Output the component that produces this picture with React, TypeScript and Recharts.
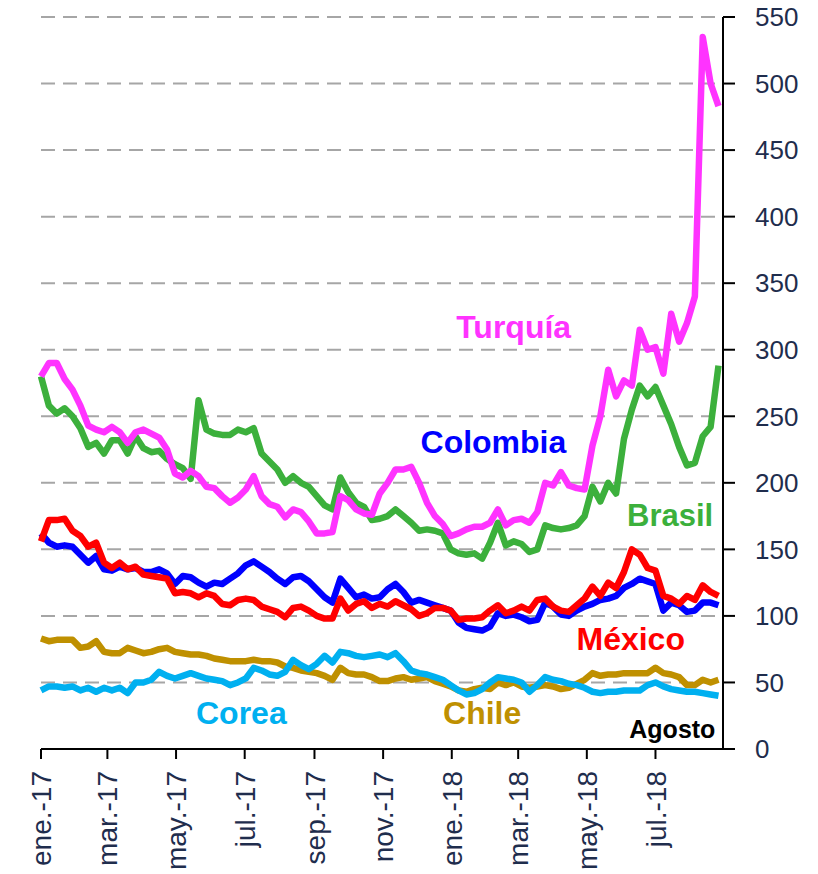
import { CartesianGrid, Line, LineChart, ReferenceDot, XAxis, YAxis } from 'recharts'

// puntos semanales desde el 1 de enero de 2017 (día 0, 7, 14, ...)
const turquia = [
  280, 290, 290, 278, 270, 258, 243, 240, 238, 242, 238, 230, 238, 240, 237, 234, 225, 207, 204, 209,
  205, 197, 196, 190, 185, 189, 195, 205, 190, 184, 182, 174, 180, 178, 171, 162, 162, 163, 190, 187,
  180, 177, 176, 192, 200, 210, 210, 212, 200, 185, 175, 169, 160, 162, 165, 167, 167, 170, 180, 168,
  172, 173, 170, 178, 200, 198, 208, 198, 196, 195, 228, 250, 285, 265, 277, 273, 315, 300, 302, 282,
  327, 306, 320, 340, 535, 500, 483,
]
const brasil = [
  280, 258, 252, 256, 250, 241, 227, 230, 222, 232, 232, 222, 235, 226, 223, 224, 218, 214, 211, 203,
  262, 240, 237, 236, 236, 240, 238, 241, 222, 216, 210, 200, 205, 200, 197, 190, 183, 180, 204, 193,
  185, 182, 172, 173, 175, 180, 175, 170, 164, 165, 164, 162, 150, 147, 146, 147, 143, 155, 170, 153,
  156, 154, 148, 150, 168, 166, 165, 166, 168, 175, 197, 186, 200, 192, 233, 255, 273, 265, 272, 258,
  244, 227, 213, 215, 235, 242, 288,
]
const colombia = [
  162, 155, 152, 153, 152, 146, 140, 145, 135, 134, 137, 135, 136, 133, 133, 135, 132, 124, 130, 129,
  125, 122, 125, 124, 128, 132, 138, 141, 137, 133, 128, 124, 129, 130, 126, 120, 114, 110, 128, 121,
  114, 116, 113, 114, 120, 124, 118, 110, 112, 110, 108, 106, 104, 95, 91, 90, 89, 92, 102, 100,
  101, 99, 96, 97, 110, 107, 101, 100, 104, 107, 109, 112, 113, 115, 121, 124, 128, 126, 124, 104,
  110, 108, 103, 104, 110, 110, 108,
]
const mexico = [
  156, 172, 172, 173, 164, 160, 152, 155, 140, 136, 140, 135, 137, 131, 130, 129, 128, 117, 118, 117,
  114, 117, 115, 109, 108, 112, 113, 112, 107, 105, 103, 99, 106, 107, 104, 100, 98, 98, 113, 104,
  109, 111, 106, 109, 107, 111, 108, 105, 100, 102, 106, 106, 104, 97, 98, 98, 99, 104, 108, 102,
  104, 107, 104, 112, 113, 107, 104, 103, 108, 113, 122, 115, 125, 121, 133, 150, 146, 136, 134, 115,
  113, 109, 115, 112, 123, 118, 115,
]
const chile = [
  83, 81, 82, 82, 82, 76, 77, 81, 73, 72, 72, 76, 74, 72, 73, 75, 76, 73, 72, 71,
  71, 70, 68, 67, 66, 66, 66, 67, 66, 66, 65, 62, 61, 59, 58, 57, 55, 52, 61, 57,
  56, 56, 54, 51, 51, 53, 54, 52, 53, 54, 51, 49, 47, 44, 43, 45, 46, 45, 50, 48,
  50, 47, 46, 47, 48, 47, 45, 46, 49, 52, 57, 55, 56, 56, 57, 57, 57, 57, 61, 57,
  56, 54, 48, 48, 52, 50, 52,
]
const corea = [
  44, 47, 47, 46, 47, 44, 46, 43, 46, 44, 46, 42, 50, 50, 52, 58, 55, 53, 55, 57,
  55, 53, 52, 51, 48, 50, 53, 61, 59, 56, 55, 58, 67, 63, 60, 64, 70, 65, 73, 72,
  70, 69, 70, 71, 69, 72, 66, 59, 57, 56, 54, 52, 48, 44, 41, 42, 45, 50, 54, 53,
  52, 50, 43, 48, 54, 52, 51, 49, 48, 46, 43, 42, 43, 43, 44, 44, 44, 48, 50, 47,
  45, 44, 43, 43, 42, 41, 40,
]

const tickDias = [0, 59, 120, 181, 243, 304, 365, 424, 485, 546]
const tickMeses = ['ene.-17', 'mar.-17', 'may.-17', 'jul.-17', 'sep.-17', 'nov.-17', 'ene.-18', 'mar.-18', 'may.-18', 'jul.-18']
const yTicks = [0, 50, 100, 150, 200, 250, 300, 350, 400, 450, 500, 550]

const TICK_COLOR = '#1f2d4d'
const FONT = '"Liberation Sans", Arial, sans-serif'

const datos = turquia.map((_, i) => ({
  dia: i * 7,
  turquia: turquia[i],
  brasil: brasil[i],
  colombia: colombia[i],
  mexico: mexico[i],
  chile: chile[i],
  corea: corea[i],
}))

const etiquetas = [
  { texto: 'Turquía', dia: 420, valor: 317, color: '#ff33ff', size: 32 },
  { texto: 'Colombia', dia: 402, valor: 231, color: '#0000ff', size: 32 },
  { texto: 'Brasil', dia: 559, valor: 176, color: '#3cb03c', size: 31 },
  { texto: 'México', dia: 524, valor: 83, color: '#ff0000', size: 32 },
  { texto: 'Corea', dia: 178, valor: 27, color: '#00b0f0', size: 32 },
  { texto: 'Chile', dia: 392, valor: 27, color: '#bf9000', size: 32 },
  { texto: 'Agosto', dia: 561, valor: 15, color: '#000000', size: 25 },
]

const W = 6.5

function MesTick(props: any) {
  const { x, y, payload } = props
  const idx = tickDias.indexOf(payload.value)
  return (
    <g transform={`translate(${x},${y})`}>
      <text
        transform="rotate(-90)"
        textAnchor="end"
        dy="0.36em"
        fontSize={28}
        fontFamily={FONT}
        fill={TICK_COLOR}
      >
        {tickMeses[idx]}
      </text>
    </g>
  )
}

export default function App() {
  return (
    <div style={{ position: 'absolute', left: 0, top: 0, width: 818, height: 874, background: '#fff' }}>
      <LineChart width={818} height={874} data={datos} margin={{ top: 17, right: 0, left: 41, bottom: 0 }}>
        <CartesianGrid vertical={false} stroke="#a6a6a6" strokeWidth={2} strokeDasharray="14 8" />
        <XAxis
          dataKey="dia"
          type="number"
          domain={[0, 606]}
          ticks={tickDias}
          interval={0}
          height={125}
          tick={<MesTick />}
          tickSize={10}
          tickMargin={12}
          axisLine={{ stroke: '#000', strokeWidth: 2 }}
          tickLine={{ stroke: '#000', strokeWidth: 2 }}
        />
        <YAxis
          orientation="right"
          domain={[0, 550]}
          ticks={yTicks}
          interval={0}
          width={95}
          tickSize={12}
          tickMargin={20}
          axisLine={{ stroke: '#000', strokeWidth: 2 }}
          tickLine={{ stroke: '#000', strokeWidth: 2 }}
          tick={{ fontSize: 26, fill: TICK_COLOR, fontFamily: FONT, textAnchor: 'start' }}
        />
        <Line dataKey="chile" stroke="#bf9000" strokeWidth={W} dot={false} isAnimationActive={false} strokeLinejoin="round" />
        <Line dataKey="corea" stroke="#00b0f0" strokeWidth={W} dot={false} isAnimationActive={false} strokeLinejoin="round" />
        <Line dataKey="colombia" stroke="#0000ff" strokeWidth={W} dot={false} isAnimationActive={false} strokeLinejoin="round" />
        <Line dataKey="mexico" stroke="#ff0000" strokeWidth={W} dot={false} isAnimationActive={false} strokeLinejoin="round" />
        <Line dataKey="brasil" stroke="#3cb03c" strokeWidth={W} dot={false} isAnimationActive={false} strokeLinejoin="round" />
        <Line dataKey="turquia" stroke="#ff33ff" strokeWidth={W} dot={false} isAnimationActive={false} strokeLinejoin="round" />
        {etiquetas.map((e) => (
          <ReferenceDot
            key={e.texto}
            x={e.dia}
            y={e.valor}
            r={0}
            fill="none"
            stroke="none"
            label={{
              value: e.texto,
              position: 'center',
              fill: e.color,
              fontSize: e.size,
              fontWeight: 700,
              fontFamily: FONT,
            }}
          />
        ))}
      </LineChart>
    </div>
  )
}
